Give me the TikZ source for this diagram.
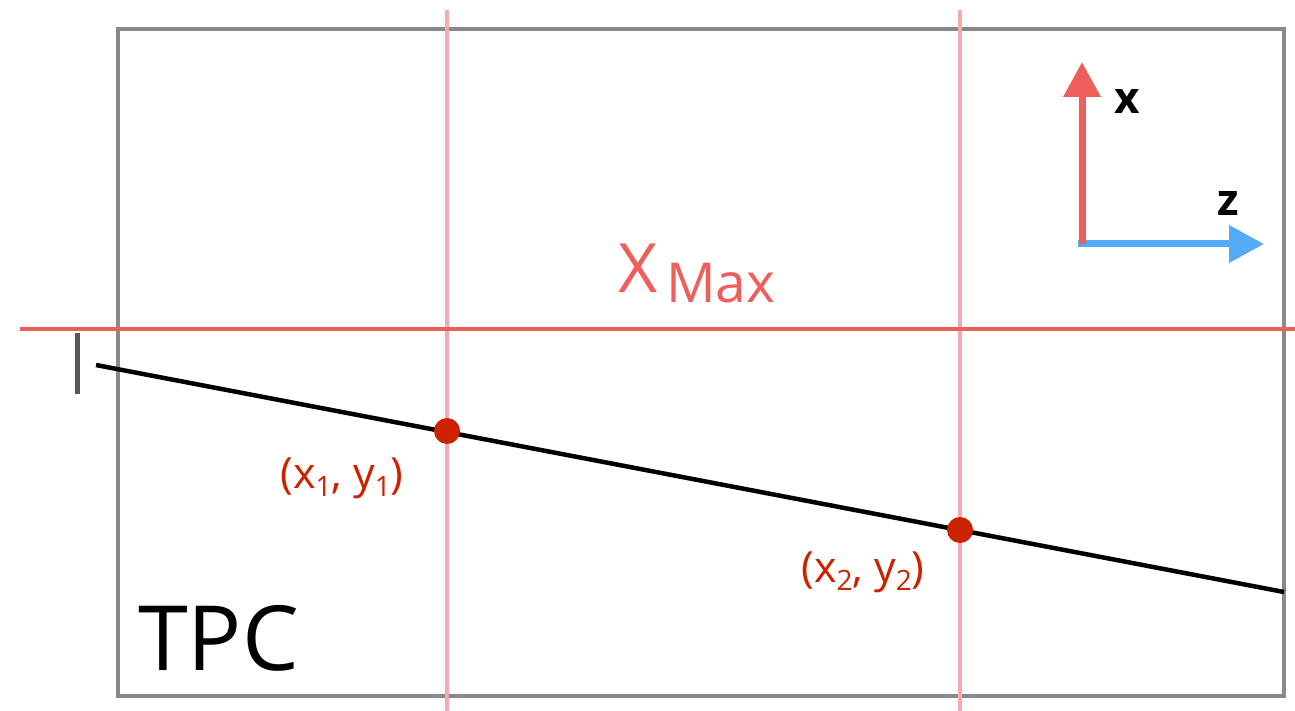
\documentclass[tikz,border=0pt]{standalone}
\usepackage{fontspec}
\setmainfont{Open Sans}
\usetikzlibrary{arrows.meta}
\definecolor{boxgray}{HTML}{88898D}
\definecolor{tickgray}{HTML}{55575C}
\definecolor{pinkline}{HTML}{F6AAAA}
\definecolor{redline}{HTML}{EE5F5B}
\definecolor{dotred}{HTML}{CC2200}
\definecolor{axblue}{HTML}{55AAF8}
\newcommand\lowsub[1]{\raisebox{-0.2em}{\fontsize{28}{32}\selectfont #1}}
\tikzset{
  gridv/.style={draw=pinkline, line width=3.5pt},
  hitdot/.style={circle, fill=dotred, inner sep=0pt, minimum size=26pt},
  hitlabel/.style={text=dotred, font=\fontsize{43}{50}\selectfont, inner sep=0pt},
  axlabel/.style={text=black, font=\fontsize{44}{52}\selectfont\bfseries, inner sep=0pt},
}
\begin{document}
\begin{tikzpicture}[x=1pt, y=-1pt]
\useasboundingbox (0,0) rectangle (1295,711);
% TPC box
\draw[draw=boxgray, line width=4.5pt] (118,29) rectangle (1284,696);
\node[font=\fontsize{90}{100}\selectfont, inner sep=0pt, anchor=base west] (tpc) at (138,670) {TPC};
% vertical pink lines
\coordinate (v1t) at (447,10); \coordinate (v1b) at (447,711);
\coordinate (v2t) at (960,10); \coordinate (v2b) at (960,711);
\draw[gridv] (v1t) -- (v1b);
\draw[gridv] (v2t) -- (v2b);
% xmax line
\coordinate (hl) at (20,329); \coordinate (hr) at (1295,329);
\draw[draw=redline, line width=4pt] (hl) -- (hr);
\node[text=redline, font=\fontsize{68}{80}\selectfont, inner sep=0pt, anchor=base west] (X) at (618,292) {X};
\node[text=redline, font=\fontsize{55}{66}\selectfont, inner sep=0pt, anchor=base west] (Max) at (666,302) {Max};
% tick
\coordinate (tt) at (77,333); \coordinate (tb) at (77,394);
\draw[draw=tickgray, line width=5pt] (tt) -- (tb);
% track
\coordinate (ta) at (96,365); \coordinate (tz) at (1284,592);
\draw[line width=4.5pt] (ta) -- (tz);
% hits
\node[hitdot] (p1) at (447,431) {};
\node[hitdot] (p2) at (960,530) {};
\node[hitlabel] (l1) at (342,478) {(x\lowsub{1}, y\lowsub{1})};
\node[hitlabel] (l2) at (863,572) {(x\lowsub{2}, y\lowsub{2})};
% axes
\coordinate (o) at (1082,244);
\coordinate (xt) at (1082,62);
\coordinate (zt) at (1264,244);
\draw[draw=axblue, line width=7pt, -{Triangle[width=36pt,length=35pt]}] (1078,244) -- (zt);
\draw[draw=redline, line width=7pt, -{Triangle[width=36pt,length=35pt]}] (1082,244) -- (xt);
\node[axlabel] (xl) at (1127,101) {x};
\node[axlabel] (zl) at (1228,203) {z};
\end{tikzpicture}
\end{document}
